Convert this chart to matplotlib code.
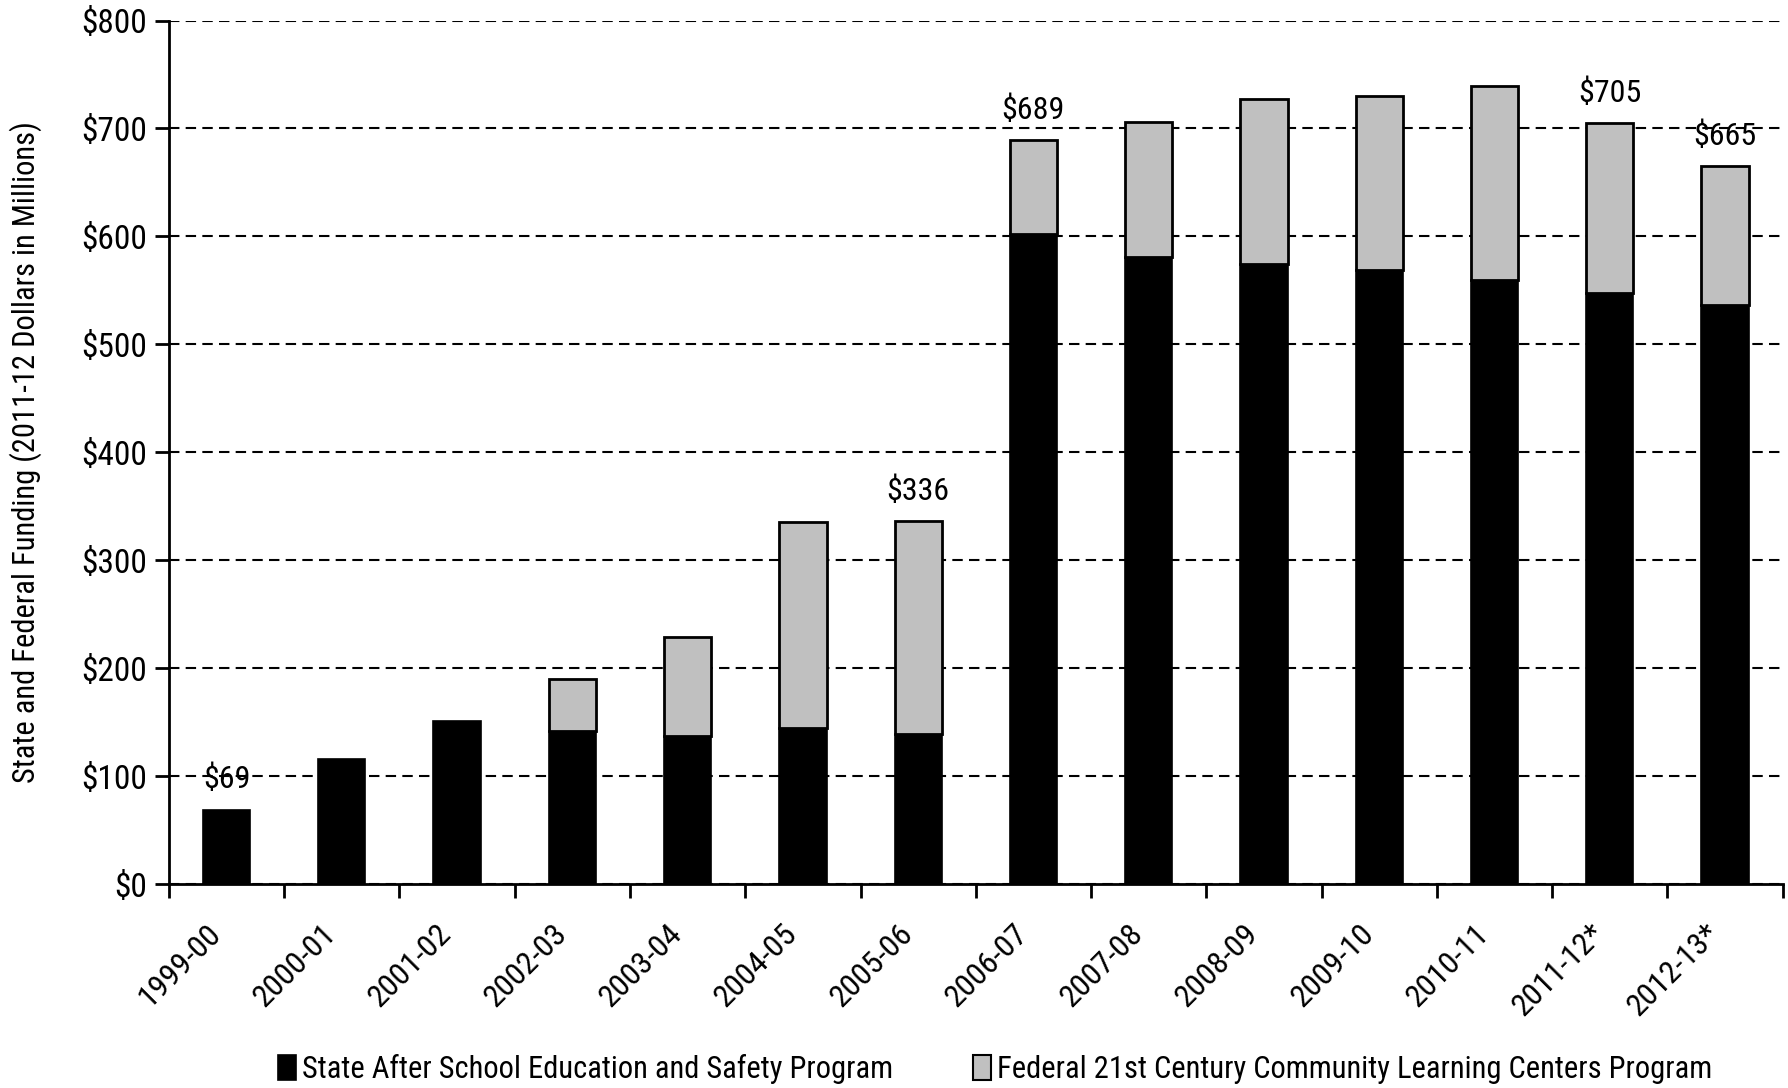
import matplotlib
matplotlib.use("Agg")
import matplotlib.pyplot as plt
from matplotlib import font_manager as fm
from matplotlib.transforms import ScaledTranslation
from matplotlib.ticker import MultipleLocator, FixedLocator, FuncFormatter
from matplotlib.patches import Patch

# Narrow sans-serif face for all chart text, first one installed wins
preferred = ["Liberation Sans Narrow", "Arial Narrow", "Roboto Condensed",
             "Archivo Narrow", "PT Sans Narrow", "IBM Plex Sans Condensed"]
installed = {f.name for f in fm.fontManager.ttflist}
narrow = next((n for n in preferred if n in installed), "DejaVu Sans")
plt.rcParams['font.family'] = [narrow, 'DejaVu Sans']

years = ["1999-00", "2000-01", "2001-02", "2002-03", "2003-04", "2004-05", "2005-06",
         "2006-07", "2007-08", "2008-09", "2009-10", "2010-11", "2011-12*", "2012-13*"]
state = [69, 116, 151, 142, 137, 145, 139, 602, 581, 574, 569, 560, 548, 536]
federal = [0, 0, 0, 48, 92, 190, 197, 87, 125, 153, 161, 179, 157, 129]
labeled = {0: "$69", 6: "$336", 7: "$689", 12: "$705", 13: "$665"}

state_color = "#000000"
federal_color = "#C0C0C0"

fig = plt.figure(figsize=(17.88, 10.88), dpi=100)
ax = fig.add_axes([0.0945, 0.1875, 0.9025, 0.7936])

x = list(range(len(years)))
w = 0.41
ax.bar(x, state, width=w, color=state_color, edgecolor="#000000", linewidth=1.2, zorder=3)
totals = [s + f for s, f in zip(state, federal)]
for i in x:
    if federal[i] > 0:
        ax.bar(i, federal[i], bottom=state[i], width=w, color=federal_color,
               edgecolor="#000000", linewidth=2.0, zorder=3)

for i, txt in labeled.items():
    ax.text(i, totals[i] + 14, txt, ha="center", va="bottom", fontsize=23, zorder=4)

ax.set_xlim(-0.5, len(years) - 0.5)
ax.set_ylim(0, 800)
ax.yaxis.set_major_locator(MultipleLocator(100))
ax.yaxis.set_major_formatter(FuncFormatter(lambda v, p: f"${int(v)}"))
ax.grid(axis="y", linestyle=(0, (5, 3)), color="#000000", linewidth=1.5, zorder=1)

ax.set_xticks(x)
ax.set_xticklabels(years, rotation=45, ha="right", va="top", fontsize=23)
shift = ScaledTranslation(6 / 100, 0, fig.dpi_scale_trans)
for lbl in ax.get_xticklabels():
    lbl.set_transform(lbl.get_transform() + shift)
ax.tick_params(axis="x", which="major", length=0, pad=25)
ax.xaxis.set_minor_locator(FixedLocator([i - 0.5 for i in range(len(years) + 1)]))
ax.tick_params(axis="x", which="minor", length=10, width=2)
ax.tick_params(axis="y", labelsize=24, length=10, width=2, pad=6)

for side in ("top", "right"):
    ax.spines[side].set_visible(False)
for side in ("left", "bottom"):
    ax.spines[side].set_linewidth(2)

ax.set_ylabel("State and Federal Funding (2011-12 Dollars in Millions)", fontsize=22, labelpad=28)

handles = [Patch(facecolor=state_color, edgecolor="#000000", linewidth=1.2),
           Patch(facecolor=federal_color, edgecolor="#000000", linewidth=1.5)]
fig.legend(handles, ["State After School Education and Safety Program",
                     "Federal 21st Century Community Learning Centers Program"],
           loc="center", bbox_to_anchor=(0.5566, 0.0175), ncol=2, frameon=False,
           fontsize=22, handlelength=0.6, handleheight=0.9, handletextpad=0.2,
           columnspacing=2.6)

fig.savefig("out.png", dpi=100)
